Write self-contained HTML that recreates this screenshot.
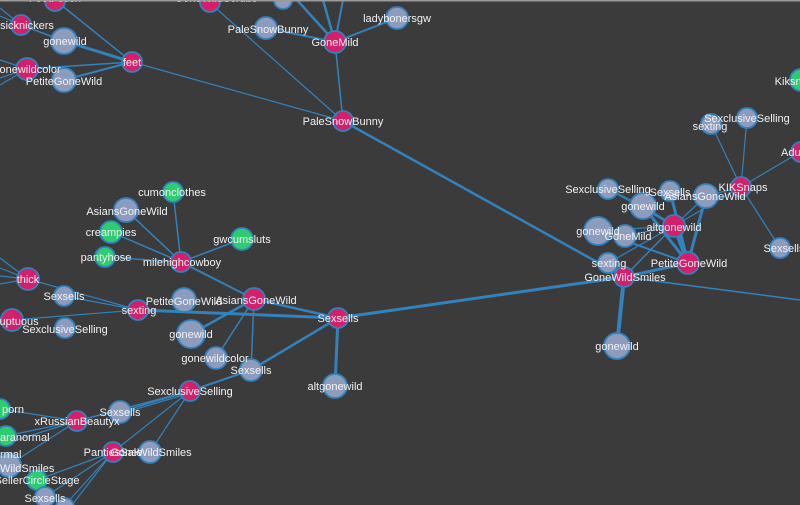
<!DOCTYPE html>
<html><head><meta charset="utf-8">
<style>
html,body{margin:0;padding:0;background:#3b3b3b;}
svg{display:block;}
text{font-family:"Liberation Sans",Arial,sans-serif;font-size:11px;fill:#f2f2f2;text-anchor:middle;}
.l{stroke:#3182bd;fill:none;}
.p{fill:#d41f6a;stroke:#3182bd;stroke-width:1.8;}
.g{fill:#8d9bbd;stroke:#3182bd;stroke-width:1.8;}
.e{fill:#2ecc71;stroke:#3182bd;stroke-width:1.8;}
</style></head>
<body>
<svg width="800" height="505" viewBox="0 0 800 505" xmlns="http://www.w3.org/2000/svg">
<rect x="0" y="0" width="800" height="505" fill="#3b3b3b"/>
<g class="l">
<!-- top-left -->
<line x1="0" y1="8" x2="21" y2="25" stroke-width="1.2"/>
<line x1="0" y1="16" x2="21" y2="25" stroke-width="1.2"/>
<line x1="21" y1="25" x2="64" y2="41" stroke-width="1.5"/>
<line x1="55" y1="0" x2="132" y2="62" stroke-width="1.5"/>
<line x1="64" y1="41" x2="132" y2="62" stroke-width="3"/>
<line x1="27" y1="69" x2="132" y2="62" stroke-width="1.5"/>
<line x1="64" y1="80" x2="132" y2="62" stroke-width="2"/>
<line x1="0" y1="60" x2="27" y2="69" stroke-width="1.2"/>
<line x1="0" y1="78" x2="27" y2="69" stroke-width="1.2"/>
<line x1="0" y1="85" x2="27" y2="69" stroke-width="1.2"/>
<line x1="132" y1="62" x2="343" y2="121" stroke-width="1.2"/>
<line x1="210" y1="3" x2="343" y2="121" stroke-width="1.2"/>
<!-- GoneMild -->
<line x1="266" y1="28" x2="335" y2="42" stroke-width="2"/>
<line x1="397" y1="18" x2="335" y2="42" stroke-width="2"/>
<line x1="297" y1="0" x2="335" y2="42" stroke-width="2.5"/>
<line x1="323" y1="0" x2="335" y2="42" stroke-width="2.5"/>
<line x1="343" y1="0" x2="335" y2="42" stroke-width="2"/>
<line x1="335" y1="42" x2="343" y2="121" stroke-width="1.5"/>
<line x1="343" y1="121" x2="624" y2="277" stroke-width="2.5"/>
<!-- KIKSnaps -->
<line x1="741" y1="187" x2="711" y2="124" stroke-width="1.2"/>
<line x1="741" y1="187" x2="747" y2="118" stroke-width="1.2"/>
<line x1="741" y1="187" x2="800" y2="152" stroke-width="1.2"/>
<line x1="741" y1="187" x2="780" y2="248" stroke-width="1.2"/>
<line x1="741" y1="187" x2="706" y2="196" stroke-width="1.2"/>
<line x1="741" y1="187" x2="674" y2="226" stroke-width="1.2"/>
<!-- PetiteGoneWild -->
<line x1="688" y1="263" x2="674" y2="226" stroke-width="4"/>
<line x1="688" y1="263" x2="643" y2="206" stroke-width="3"/>
<line x1="688" y1="263" x2="670" y2="191" stroke-width="3"/>
<line x1="688" y1="263" x2="706" y2="196" stroke-width="3"/>
<line x1="688" y1="263" x2="624" y2="277" stroke-width="3"/>
<line x1="688" y1="263" x2="598" y2="231" stroke-width="2"/>
<!-- altgonewild -->
<line x1="674" y1="226" x2="598" y2="231" stroke-width="1.2"/>
<line x1="674" y1="226" x2="625" y2="236" stroke-width="1.2"/>
<line x1="674" y1="226" x2="608" y2="189" stroke-width="1.2"/>
<line x1="674" y1="226" x2="608" y2="263" stroke-width="1.2"/>
<line x1="674" y1="226" x2="624" y2="277" stroke-width="1.5"/>
<line x1="674" y1="226" x2="643" y2="206" stroke-width="2"/>
<line x1="674" y1="226" x2="706" y2="196" stroke-width="1.2"/>
<line x1="608" y1="189" x2="643" y2="206" stroke-width="1.2"/>
<!-- GoneWildSmiles -->
<line x1="624" y1="277" x2="617" y2="346" stroke-width="4"/>
<line x1="624" y1="277" x2="338" y2="318" stroke-width="3"/>
<line x1="624" y1="277" x2="800" y2="300" stroke-width="1.5"/>
<line x1="624" y1="277" x2="608" y2="263" stroke-width="1.2"/>
<!-- milehighcowboy -->
<line x1="181" y1="262" x2="173" y2="192" stroke-width="1.5"/>
<line x1="181" y1="262" x2="126" y2="210" stroke-width="1.5"/>
<line x1="181" y1="262" x2="111" y2="232" stroke-width="1.5"/>
<line x1="181" y1="262" x2="105" y2="257" stroke-width="1.5"/>
<line x1="181" y1="262" x2="242" y2="239" stroke-width="1.5"/>
<line x1="181" y1="262" x2="254" y2="299" stroke-width="2"/>
<!-- thick / sexting -->
<line x1="0" y1="258" x2="28" y2="279" stroke-width="1.2"/>
<line x1="0" y1="268" x2="28" y2="279" stroke-width="1.2"/>
<line x1="0" y1="276" x2="28" y2="279" stroke-width="1.2"/>
<line x1="0" y1="284" x2="28" y2="279" stroke-width="1.2"/>
<line x1="28" y1="279" x2="138" y2="310" stroke-width="1.2"/>
<line x1="64" y1="296" x2="138" y2="310" stroke-width="1.2"/>
<line x1="12" y1="320" x2="138" y2="310" stroke-width="1.2"/>
<line x1="0" y1="318" x2="12" y2="320" stroke-width="1.2"/>
<line x1="138" y1="310" x2="338" y2="318" stroke-width="3"/>
<line x1="254" y1="299" x2="338" y2="318" stroke-width="2.5"/>
<line x1="254" y1="299" x2="191" y2="334" stroke-width="2.5"/>
<line x1="254" y1="299" x2="216" y2="358" stroke-width="1.5"/>
<line x1="254" y1="299" x2="251" y2="370" stroke-width="1.5"/>
<line x1="338" y1="318" x2="251" y2="370" stroke-width="2.5"/>
<line x1="338" y1="318" x2="335" y2="386" stroke-width="3"/>
<line x1="251" y1="370" x2="190" y2="391" stroke-width="2"/>
<!-- bottom-left -->
<line x1="190" y1="391" x2="120" y2="412" stroke-width="1.5"/>
<line x1="190" y1="393" x2="120" y2="414" stroke-width="1.2"/>
<line x1="190" y1="391" x2="77" y2="421" stroke-width="1.5"/>
<line x1="190" y1="391" x2="113" y2="452" stroke-width="1.2"/>
<line x1="190" y1="391" x2="150" y2="452" stroke-width="1.2"/>
<line x1="77" y1="421" x2="0" y2="409" stroke-width="1.2"/>
<line x1="77" y1="421" x2="6" y2="436" stroke-width="1.2"/>
<line x1="77" y1="421" x2="0" y2="445" stroke-width="1.2"/>
<line x1="77" y1="421" x2="9" y2="465" stroke-width="1.2"/>
<line x1="113" y1="452" x2="37" y2="480" stroke-width="1.2"/>
<line x1="113" y1="452" x2="45" y2="497" stroke-width="1.2"/>
<line x1="113" y1="452" x2="65" y2="505" stroke-width="1.2"/>
<line x1="113" y1="452" x2="72" y2="505" stroke-width="1.2"/>
</g>

<!-- nodes -->
<circle class="p" cx="55" cy="1" r="10"/>
<circle class="p" cx="21" cy="25" r="10"/>
<circle class="g" cx="64" cy="41" r="13"/>
<circle class="p" cx="27" cy="69" r="11"/>
<circle class="g" cx="64" cy="80" r="12"/>
<circle class="p" cx="132" cy="62" r="10"/>
<circle class="p" cx="210" cy="2" r="10"/>
<circle class="g" cx="283" cy="0" r="9"/>
<circle class="g" cx="266" cy="28" r="11"/>
<circle class="p" cx="335" cy="42" r="11"/>
<circle class="g" cx="397" cy="18" r="11"/>
<circle class="p" cx="343" cy="121" r="10"/>

<circle class="e" cx="801" cy="80" r="11"/>
<circle class="g" cx="711" cy="124" r="10"/>
<circle class="g" cx="747" cy="118" r="10"/>
<circle class="p" cx="801" cy="152" r="10"/>
<circle class="g" cx="780" cy="248" r="10"/>
<circle class="g" cx="706" cy="196" r="12"/>
<circle class="p" cx="741" cy="187" r="10"/>
<circle class="g" cx="608" cy="189" r="10"/>
<circle class="g" cx="670" cy="191" r="10"/>
<circle class="g" cx="643" cy="206" r="13"/>
<circle class="g" cx="598" cy="231" r="14"/>
<circle class="g" cx="625" cy="236" r="11"/>
<circle class="p" cx="674" cy="226" r="11"/>
<circle class="g" cx="608" cy="263" r="10"/>
<circle class="p" cx="688" cy="263" r="11"/>
<circle class="p" cx="624" cy="277" r="10"/>
<circle class="g" cx="617" cy="346" r="13"/>

<circle class="e" cx="173" cy="192" r="10"/>
<circle class="g" cx="126" cy="210" r="12"/>
<circle class="e" cx="111" cy="232" r="11"/>
<circle class="e" cx="105" cy="257" r="10"/>
<circle class="e" cx="242" cy="239" r="11"/>
<circle class="p" cx="181" cy="262" r="10"/>
<circle class="p" cx="28" cy="279" r="11"/>
<circle class="g" cx="64" cy="296" r="10"/>
<circle class="p" cx="12" cy="320" r="11"/>
<circle class="g" cx="65" cy="328" r="10"/>
<circle class="p" cx="138" cy="310" r="10"/>
<circle class="g" cx="184" cy="300" r="12"/>
<circle class="p" cx="254" cy="299" r="11"/>
<circle class="g" cx="191" cy="334" r="14"/>
<circle class="g" cx="216" cy="358" r="11"/>
<circle class="g" cx="251" cy="370" r="11"/>
<circle class="p" cx="338" cy="318" r="10"/>
<circle class="g" cx="335" cy="386" r="12"/>
<circle class="p" cx="190" cy="391" r="10"/>

<circle class="e" cx="0" cy="409" r="10"/>
<circle class="e" cx="6" cy="436" r="10"/>
<circle class="g" cx="120" cy="412" r="11"/>
<circle class="p" cx="77" cy="421" r="10"/>
<circle class="g" cx="150" cy="452" r="11"/>
<circle class="p" cx="113" cy="452" r="10"/>
<circle class="g" cx="9" cy="465" r="12"/>
<circle class="e" cx="37" cy="480" r="10"/>
<circle class="g" cx="45" cy="497" r="10"/>
<circle class="g" cx="65" cy="507" r="9"/>

<!-- labels -->
<text x="55" y="2">FootFetish</text>
<text x="16" y="29">Classicknickers</text>
<text x="65" y="45">gonewild</text>
<text x="27" y="73">gonewildcolor</text>
<text x="64" y="85">PetiteGoneWild</text>
<text x="132" y="66">feet</text>
<text x="216" y="2">GoneWildScrubs</text>
<text x="268" y="33">PaleSnowBunny</text>
<text x="335" y="46">GoneMild</text>
<text x="397" y="22">ladybonersgw</text>
<text x="343" y="125">PaleSnowBunny</text>

<text x="797" y="85">Kiksnaps</text>
<text x="710" y="130">sexting</text>
<text x="747" y="122">SexclusiveSelling</text>
<text x="781" y="156" style="text-anchor:start">AdultKik</text>
<text x="784" y="252">Sexsells</text>
<text x="705" y="200">AsiansGoneWild</text>
<text x="743" y="191">KIKSnaps</text>
<text x="608" y="193">SexclusiveSelling</text>
<text x="670" y="196">Sexsells</text>
<text x="643" y="210">gonewild</text>
<text x="598" y="235">gonewild</text>
<text x="628" y="240">GoneMild</text>
<text x="674" y="231">altgonewild</text>
<text x="609" y="267">sexting</text>
<text x="689" y="267">PetiteGoneWild</text>
<text x="625" y="281">GoneWildSmiles</text>
<text x="617" y="350">gonewild</text>

<text x="172" y="196">cumonclothes</text>
<text x="127" y="215">AsiansGoneWild</text>
<text x="111" y="236">creampies</text>
<text x="106" y="261">pantyhose</text>
<text x="242" y="243">gwcumsluts</text>
<text x="182" y="266">milehighcowboy</text>
<text x="28" y="283">thick</text>
<text x="64" y="300">Sexsells</text>
<text x="12" y="325">voluptuous</text>
<text x="65" y="333">SexclusiveSelling</text>
<text x="139" y="314">sexting</text>
<text x="184" y="305">PetiteGoneWild</text>
<text x="256" y="304">AsiansGoneWild</text>
<text x="191" y="338">gonewild</text>
<text x="215" y="362">gonewildcolor</text>
<text x="251" y="374">Sexsells</text>
<text x="338" y="322">Sexsells</text>
<text x="335" y="390">altgonewild</text>
<text x="190" y="395">SexclusiveSelling</text>

<text x="2" y="413" style="text-anchor:start">porn</text>
<text x="0" y="441" style="text-anchor:start">aranormal</text>
<text x="0" y="458" style="text-anchor:start">rmal</text>
<text x="120" y="416">Sexsells</text>
<text x="77" y="425">xRussianBeautyx</text>
<text x="113" y="456">PantiesSale</text>
<text x="151" y="456">GoneWildSmiles</text>
<text x="0" y="472" style="text-anchor:start">WildSmiles</text>
<text x="37" y="484">SellerCircleStage</text>
<text x="45" y="502">Sexsells</text>

<rect x="0" y="0" width="800" height="1.5" fill="#9a9a9a"/>
</svg>
</body></html>
